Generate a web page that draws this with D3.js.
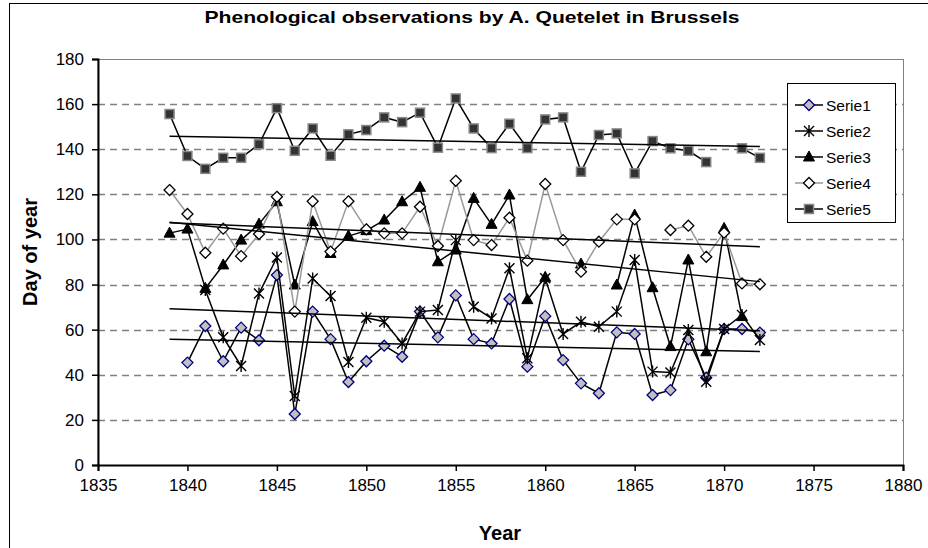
<!DOCTYPE html>
<html><head><meta charset="utf-8">
<script src="https://cdn.jsdelivr.net/npm/d3@7"></script>
<style>body{margin:0;background:#fff}svg{display:block}text{font-family:"Liberation Sans",Arial,sans-serif}</style>
</head><body><svg id="c" width="928" height="548"></svg>
<script>
const years = [1839,1840,1841,1842,1843,1844,1845,1846,1847,1848,1849,1850,1851,1852,1853,1854,1855,1856,1857,1858,1859,1860,1861,1862,1863,1864,1865,1866,1867,1868,1869,1870,1871,1872];
const serie1 = [null,45.4,61.6,46,60.9,55.3,84.2,22.6,68,55.8,36.8,46,52.9,48,68,56.6,75.2,55.8,53.9,73.6,43.6,66,46.5,36.2,31.8,58.8,58.1,31,33.2,55.7,38.7,60.3,60.3,58.7];
const serie2 = [null,null,77.6,56.6,43.9,76,92,30.6,82.7,74.9,45.7,65.3,63.5,53.9,68,68.7,99.7,70.2,65,87.2,47.3,82.8,58.1,63.5,61.3,68,90.9,41.4,41,59.8,36.9,60.3,66.5,55.4];
const serie3 = [102.8,104.6,78.3,88.7,99.7,106.8,116.7,79.8,107.9,93.8,101.5,103.9,108.6,116.7,123.1,90.1,95.3,118.2,106.7,119.7,73.3,83.2,null,89.1,null,79.8,110.8,78.6,52.5,90.9,50.2,104.9,65.8,null];
const serie4 = [121.9,111.3,94.1,104.8,92.6,102.4,118.9,68,116.9,94.6,116.9,104.5,102.7,102.7,114.5,97.1,126,99.7,97.5,109.6,90.6,124.6,99.7,85.7,99,108.9,108.9,null,104.2,106.1,92.3,103,80.5,80.1];
const serie5 = [155.6,137,131.3,136.2,136.2,142.2,158.2,139.3,149.2,137.1,146.6,148.5,154.1,152,156.2,140.7,162.5,149.2,140.5,151.3,140.5,153.2,154.1,130,146.3,147,129.3,143.6,140.4,139.3,134.3,null,140.4,136.2];
const seriesNames = ["Serie1","Serie2","Serie3","Serie4","Serie5"];
const trendStart = [55.8,69.3,107.6,107.4,145.7];
const trendEnd = [50.3,59.5,81.3,96.8,141.2];
const xTicks = [1835,1840,1845,1850,1855,1860,1865,1870,1875,1880];
const yTicks = [0,20,40,60,80,100,120,140,160,180];

const svg = d3.select("#c");
const L=98,R=903,T=59,B=465;
const x = d3.scaleLinear().domain([1835,1880]).range([L,R]);
const y = d3.scaleLinear().domain([0,180]).range([B,T]);

// chart border
svg.append("rect").attr("x",9.5).attr("y",3.5).attr("width",940).attr("height",560).attr("fill","#fff").attr("stroke","#000").attr("stroke-width",1);

// gridlines
svg.append("g").selectAll("line").data(yTicks.filter(d=>d>0 && d<180)).join("line")
  .attr("x1",L).attr("x2",R).attr("y1",d=>Math.round(y(d))+0.5).attr("y2",d=>Math.round(y(d))+0.5)
  .attr("stroke","#808080").attr("stroke-width",1.3).attr("stroke-dasharray","7,5");
// plot area border
svg.append("rect").attr("x",L).attr("y",T+0.5).attr("width",R-L+0.5).attr("height",B-T).attr("fill","none").attr("stroke","#808080").attr("stroke-width",1);

// axes
const ya = svg.append("g").attr("transform",`translate(${L},0)`).call(d3.axisLeft(y).tickValues(yTicks).tickSize(6).tickFormat(d3.format("d")));
const xa = svg.append("g").attr("transform",`translate(0,${B})`).call(d3.axisBottom(x).tickValues(xTicks).tickSize(6).tickFormat(d3.format("d")));
[ya,xa].forEach(a=>{a.select(".domain").attr("stroke","#000").attr("stroke-width",2);
  a.selectAll(".tick line").attr("stroke","#000").attr("stroke-width",1.5);
  a.selectAll("text").attr("font-size",17).attr("fill","#000").attr("font-family","Liberation Sans, Arial, sans-serif");});
ya.selectAll("text").attr("x",-14);
xa.selectAll("text").attr("y",14);

// titles
svg.append("text").attr("x",472).attr("y",23).attr("text-anchor","middle").attr("font-size",17).attr("font-weight","bold")
  .attr("textLength",535).attr("lengthAdjust","spacingAndGlyphs").text("Phenological observations by A. Quetelet in Brussels");
svg.append("text").attr("x",500).attr("y",540).attr("text-anchor","middle").attr("font-size",20).attr("font-weight","bold").text("Year");
svg.append("text").attr("transform","translate(37,252) rotate(-90)").attr("text-anchor","middle").attr("font-size",20).attr("font-weight","bold").text("Day of year");

const allSeries = [serie1,serie2,serie3,serie4,serie5];
const lineColors = ["#000","#000","#000","#999","#000"];
const line = d3.line().defined(d=>d[1]!=null).x(d=>x(d[0])).y(d=>y(d[1]));

function marker(g,i,cx,cy){
  if(i===0){ g.append("path").attr("d",`M${cx},${cy-5.5}L${cx+5.5},${cy}L${cx},${cy+5.5}L${cx-5.5},${cy}Z`).attr("fill","#c0c0c0").attr("stroke","#000080").attr("stroke-width",1.3);}
  else if(i===1){ const s=5; g.append("path").attr("d",`M${cx-s},${cy-s}L${cx+s},${cy+s}M${cx-s},${cy+s}L${cx+s},${cy-s}M${cx},${cy-s-1}L${cx},${cy+s+1}`).attr("stroke","#000").attr("stroke-width",1.4).attr("fill","none");}
  else if(i===2){ g.append("path").attr("d",`M${cx},${cy-6}L${cx+5.5},${cy+4}L${cx-5.5},${cy+4}Z`).attr("fill","#000").attr("stroke","#000").attr("stroke-width",1);}
  else if(i===3){ g.append("path").attr("d",`M${cx},${cy-5.5}L${cx+5.5},${cy}L${cx},${cy+5.5}L${cx-5.5},${cy}Z`).attr("fill","#fff").attr("stroke","#000").attr("stroke-width",1.3);}
  else { g.append("rect").attr("x",cx-4.5).attr("y",cy-4.5).attr("width",9).attr("height",9).attr("fill","#333").attr("stroke","#888").attr("stroke-width",1.5);}
}

// series lines + markers, in series order
allSeries.forEach((s,i)=>{
  const pts = years.map((yr,j)=>[yr,s[j]]);
  svg.append("path").datum(pts).attr("d",line).attr("fill","none").attr("stroke",lineColors[i]).attr("stroke-width",1.5);
  const g = svg.append("g");
  years.forEach((yr,j)=>{ if(s[j]!=null) marker(g,i,x(yr),y(s[j])); });
});

// trend lines
const tg = svg.append("g");
allSeries.forEach((s,i)=>{
  tg.append("line").attr("x1",x(years[0])).attr("x2",x(years[years.length-1]))
    .attr("y1",y(trendStart[i])).attr("y2",y(trendEnd[i])).attr("stroke","#000").attr("stroke-width",1.5);
});

// legend
const lg = svg.append("g");
lg.append("rect").attr("x",787.5).attr("y",83.5).attr("width",108).attr("height",139).attr("fill","#fff").attr("stroke","#000").attr("stroke-width",1);
seriesNames.forEach((n,i)=>{
  const ly = 105 + i*26;
  lg.append("line").attr("x1",795).attr("x2",823).attr("y1",ly).attr("y2",ly).attr("stroke",lineColors[i]).attr("stroke-width",1.5);
  marker(lg,i,809,ly);
  lg.append("text").attr("x",826).attr("y",ly+5.5).attr("font-size",15.5).text(n);
});
</script></body></html>
